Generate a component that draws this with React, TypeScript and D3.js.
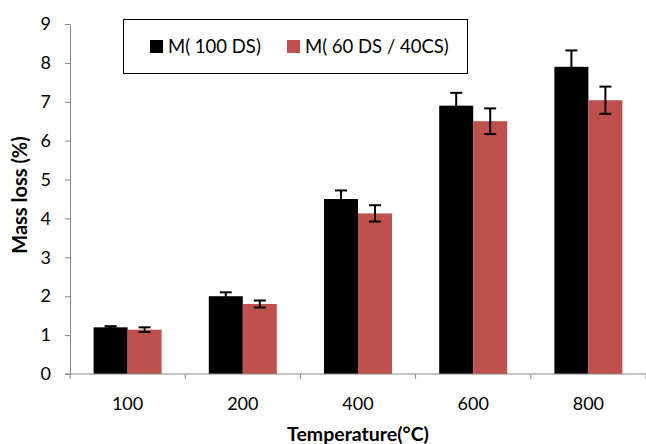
import React, { useEffect, useRef } from "react";
import * as d3 from "d3";

const categories = ["100", "200", "400", "600", "800"];
const seriesNames = ["M( 100 DS)", "M( 60 DS / 40CS)"];
const seriesColors = ["#000000", "#C0504D"];
const ds100 = [1.2, 2.0, 4.5, 6.9, 7.9];
const ds100Err = [0.03, 0.1, 0.22, 0.33, 0.42];
const ds60cs40 = [1.14, 1.8, 4.13, 6.5, 7.04];
const ds60cs40Err = [0.06, 0.09, 0.21, 0.33, 0.35];
const yTicks = [0, 1, 2, 3, 4, 5, 6, 7, 8, 9];

const font = "Lato, 'Open Sans', sans-serif";

export default function App() {
  const ref = useRef<SVGSVGElement>(null);

  useEffect(() => {
    const svg = d3.select(ref.current);
    svg.selectAll("*").remove();

    const W = 646, H = 444;
    const left = 70, right = 646, top = 24, bottom = 374;

    const x = d3.scaleBand().domain(categories).range([left, right]);
    const inner = d3.scaleBand().domain(["0", "1"]).range([0, 68]);
    const y = d3.scaleLinear().domain([0, 9]).range([bottom, top]);

    svg.attr("width", W).attr("height", H);
    svg.append("rect").attr("width", W).attr("height", H).attr("fill", "#fff");

    const series = [
      { vals: ds100, errs: ds100Err },
      { vals: ds60cs40, errs: ds60cs40Err },
    ];

    // bars
    series.forEach((s, si) => {
      const g = svg.append("g");
      g.selectAll("rect")
        .data(categories)
        .enter()
        .append("rect")
        .attr("x", d => x(d)! + x.bandwidth() / 2 - 34 + inner(String(si))!)
        .attr("y", (_, i) => y(s.vals[i]))
        .attr("width", inner.bandwidth())
        .attr("height", (_, i) => bottom - y(s.vals[i]))
        .attr("fill", seriesColors[si]);
    });

    // error bars
    series.forEach((s, si) => {
      const g = svg.append("g").attr("stroke", "#000").attr("stroke-width", 2);
      categories.forEach((c, i) => {
        const cx = x(c)! + x.bandwidth() / 2 - 34 + inner(String(si))! + inner.bandwidth() / 2;
        const hi = y(s.vals[i] + s.errs[i]);
        const lo = y(s.vals[i] - s.errs[i]);
        g.append("line").attr("x1", cx).attr("x2", cx).attr("y1", hi).attr("y2", lo);
        g.append("line").attr("x1", cx - 6).attr("x2", cx + 6).attr("y1", hi).attr("y2", hi);
        g.append("line").attr("x1", cx - 6).attr("x2", cx + 6).attr("y1", lo).attr("y2", lo);
      });
    });

    // y axis
    const yAxis = svg.append("g").attr("transform", `translate(${left},0)`)
      .call(d3.axisLeft(y).tickValues(yTicks).tickSize(5).tickSizeOuter(0).tickPadding(14));
    yAxis.selectAll("line").attr("stroke", "#868686");
    yAxis.select(".domain").attr("stroke", "#868686");
    yAxis.selectAll("text").attr("font-family", font).attr("font-size", 18).attr("fill", "#000");

    // x axis
    const xAxisG = svg.append("g").attr("transform", `translate(0,${bottom})`);
    xAxisG.append("line").attr("x1", left - 5).attr("x2", right).attr("stroke", "#868686");
    const bounds = categories.map(c => x(c)!).concat([x(categories[categories.length - 1])! + x.bandwidth()]);
    xAxisG.selectAll("line.tick").data(bounds).enter().append("line")
      .attr("class", "tick").attr("x1", d => d).attr("x2", d => d).attr("y1", 0).attr("y2", 5)
      .attr("stroke", "#868686");
    xAxisG.selectAll("text").data(categories).enter().append("text")
      .attr("x", d => x(d)! + x.bandwidth() / 2)
      .attr("y", 36)
      .attr("text-anchor", "middle")
      .attr("font-family", font).attr("font-size", 18)
      .text(d => d);

    // axis titles
    svg.append("text")
      .attr("transform", `translate(27,195) rotate(-90)`)
      .attr("text-anchor", "middle")
      .attr("font-family", font).attr("font-size", 20).attr("font-weight", "bold")
      .text("Mass loss (%)");
    svg.append("text")
      .attr("x", 358).attr("y", 441)
      .attr("text-anchor", "middle")
      .attr("font-family", font).attr("font-size", 19.5).attr("font-weight", "bold")
      .text("Temperature(°C)");

    // legend
    const lg = svg.append("g");
    lg.append("rect").attr("x", 123.5).attr("y", 19.5).attr("width", 344).attr("height", 54)
      .attr("fill", "#fff").attr("stroke", "#000").attr("stroke-width", 1);
    const lx = [150, 287];
    seriesNames.forEach((n, i) => {
      lg.append("rect").attr("x", lx[i]).attr("y", 40).attr("width", 13).attr("height", 13)
        .attr("fill", seriesColors[i]);
      lg.append("text").attr("x", lx[i] + 18).attr("y", 53)
        .attr("font-family", font).attr("font-size", 18.5)
        .text(n);
    });
  }, []);

  return <svg ref={ref} style={{ display: "block", position: "absolute", left: 0, top: 0 }} />;
}
